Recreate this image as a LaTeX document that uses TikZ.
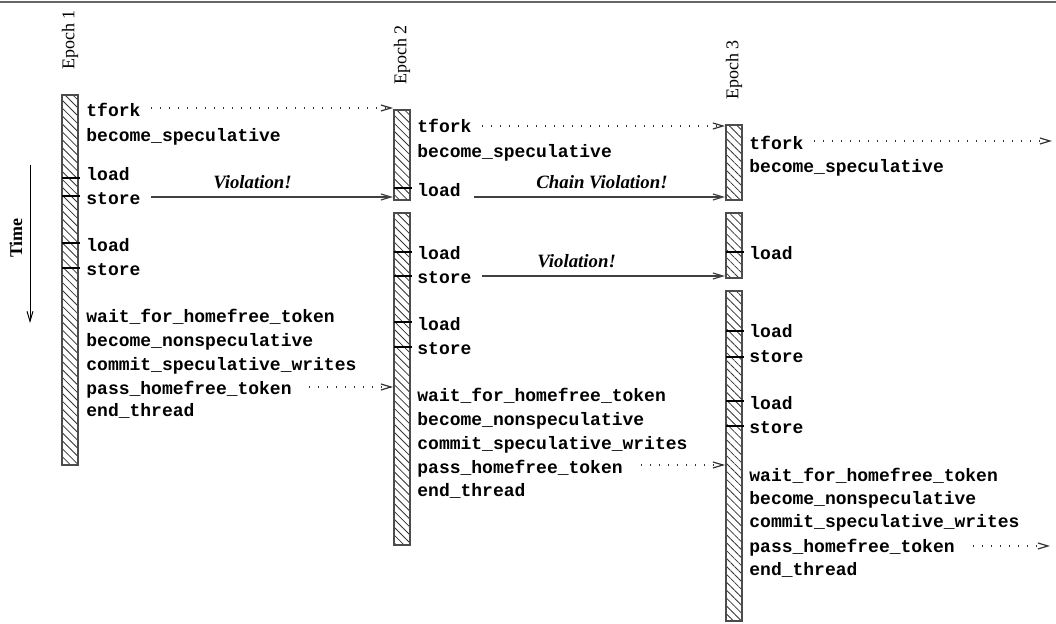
\documentclass[tikz,border=0pt]{standalone}
\usepackage{fontspec}
\setmainfont{Liberation Serif}
\setmonofont{Liberation Mono}
\usetikzlibrary{arrows.meta,patterns.meta}

\tikzset{
  op/.style={anchor=west, inner sep=0pt, text height=6pt, text depth=1.5pt,
    font=\ttfamily\bfseries\fontsize{9}{10}\selectfont},
  epoch/.style={rotate=90, anchor=west, inner sep=0pt, font=\fontsize{9}{10}\selectfont},
  bar/.style={draw=black!70, line width=0.55pt,
    pattern={Lines[angle=-45,distance=2.8pt,line width=0.4pt]}, pattern color=black!80},
  tick/.style={line width=1.3pt},
  xarrow/.style={-{Straight Barb[length=5pt,width=3pt]}},
  fork/.style={xarrow, black!80, line width=0.6pt, dash pattern=on 0.7pt off 3.8pt},
  viol/.style={xarrow, black!75, line width=0.6pt},
  vlabel/.style={above=3.8pt, inner sep=0pt, black, font=\bfseries\itshape\fontsize{9.4}{11}\selectfont}
}

\begin{document}
\begin{tikzpicture}[x=0.5pt, y=-0.5pt]
    \useasboundingbox (0,0) rectangle (1056,624);
    \draw[black!60, line width=0.75pt] (0,2) -- (1056,2);

    % Time axis
    \node[rotate=90, inner sep=0pt, font=\bfseries\fontsize{9}{10}\selectfont] (time) at (16,238) {Time};
    \coordinate (t0) at (30,165);
    \coordinate (t1) at (30,323);
    \draw[xarrow, line width=0.5pt] (t0) -- (t1);

    % Epoch 1
    \node[epoch] (ep1) at (70,70) {Epoch 1};
    \draw[bar] (62,95) rectangle (78,465);
    \draw[tick] (62,178) -- (80,178) (62,196) -- (80,196) (62,243) -- (80,243) (62,268) -- (80,268);
    \node[op] (fork1)   at (86,112) {tfork};
    \node[op] (spec1)   at (86,137) {become\_speculative};
    \node[op] (ld1a)    at (86,176) {load};
    \node[op] (st1a)    at (86,200) {store};
    \node[op] (ld1b)    at (86,247) {load};
    \node[op] (st1b)    at (86,271) {store};
    \node[op] (wait1)   at (86,318) {wait\_for\_homefree\_token};
    \node[op] (nspec1)  at (86,342) {become\_nonspeculative};
    \node[op] (commit1) at (86,366) {commit\_speculative\_writes};
    \node[op] (pass1)   at (86,390) {pass\_homefree\_token};
    \node[op] (end1)    at (86,412) {end\_thread};

    % Epoch 2
    \node[epoch] (ep2) at (402,85) {Epoch 2};
    \draw[bar] (394,110) rectangle (410,200);
    \draw[bar] (394,213) rectangle (410,545);
    \draw[tick] (394,188) -- (412,188) (394,252) -- (412,252) (394,276) -- (412,276)
                (394,322) -- (412,322) (394,347) -- (412,347);
    \node[op] (fork2)   at (417,128) {tfork};
    \node[op] (spec2)   at (417,153) {become\_speculative};
    \node[op] (ld2a)    at (417,192) {load};
    \node[op] (ld2b)    at (417,255) {load};
    \node[op] (st2b)    at (417,279) {store};
    \node[op] (ld2c)    at (417,326) {load};
    \node[op] (st2c)    at (417,350) {store};
    \node[op] (wait2)   at (417,397) {wait\_for\_homefree\_token};
    \node[op] (nspec2)  at (417,421) {become\_nonspeculative};
    \node[op] (commit2) at (417,445) {commit\_speculative\_writes};
    \node[op] (pass2)   at (417,469) {pass\_homefree\_token};
    \node[op] (end2)    at (417,492) {end\_thread};

    % Epoch 3
    \node[epoch] (ep3) at (734,100) {Epoch 3};
    \draw[bar] (726,125) rectangle (742,200);
    \draw[bar] (726,213) rectangle (742,278);
    \draw[bar] (726,291) rectangle (742,621);
    \draw[tick] (726,252) -- (744,252) (726,331) -- (744,331) (726,357) -- (744,357)
                (726,401) -- (744,401) (726,426) -- (744,426);
    \node[op] (fork3)   at (749,145) {tfork};
    \node[op] (spec3)   at (749,168) {become\_speculative};
    \node[op] (ld3a)    at (749,255) {load};
    \node[op] (ld3b)    at (749,333) {load};
    \node[op] (st3b)    at (749,358) {store};
    \node[op] (ld3c)    at (749,405) {load};
    \node[op] (st3c)    at (749,429) {store};
    \node[op] (wait3)   at (749,477) {wait\_for\_homefree\_token};
    \node[op] (nspec3)  at (749,500) {become\_nonspeculative};
    \node[op] (commit3) at (749,523) {commit\_speculative\_writes};
    \node[op] (pass3)   at (749,548) {pass\_homefree\_token};
    \node[op] (end3)    at (749,571) {end\_thread};

    % arrow ends on the bars
    \coordinate (in2)   at (393,108);
    \coordinate (hit2)  at (393,197);
    \coordinate (tok2)  at (393,387);
    \coordinate (in3)   at (725,126);
    \coordinate (hit3a) at (725,197);
    \coordinate (hit3b) at (725,276);
    \coordinate (tok3)  at (725,465);
    \coordinate (in4)   at (1052,141);
    \coordinate (tok4)  at (1050,546);

    % forks and tokens
    \draw[fork] ([xshift=5pt]fork1.east |- in2) -- (in2);
    \draw[fork] ([xshift=8.5pt]pass1.east |- tok2) -- (tok2);
    \draw[fork] ([xshift=5pt]fork2.east |- in3) -- (in3);
    \draw[fork] ([xshift=9pt]pass2.east |- tok3) -- (tok3);
    \draw[fork] ([xshift=5pt]fork3.east |- in4) -- (in4);
    \draw[fork] ([xshift=9pt]pass3.east |- tok4) -- (tok4);

    % violations
    \draw[viol] ([xshift=5pt]st1a.east |- hit2) -- node[vlabel, pos=0.42] (v1) {Violation!} (hit2);
    \draw[viol] ([xshift=6.5pt]ld2a.east |- hit3a) -- node[vlabel, pos=0.51] (cv) {Chain Violation!} (hit3a);
    \draw[viol] ([xshift=5pt]st2b.east |- hit3b) -- node[vlabel, pos=0.39] (v2) {Violation!} (hit3b);
\end{tikzpicture}
\end{document}
